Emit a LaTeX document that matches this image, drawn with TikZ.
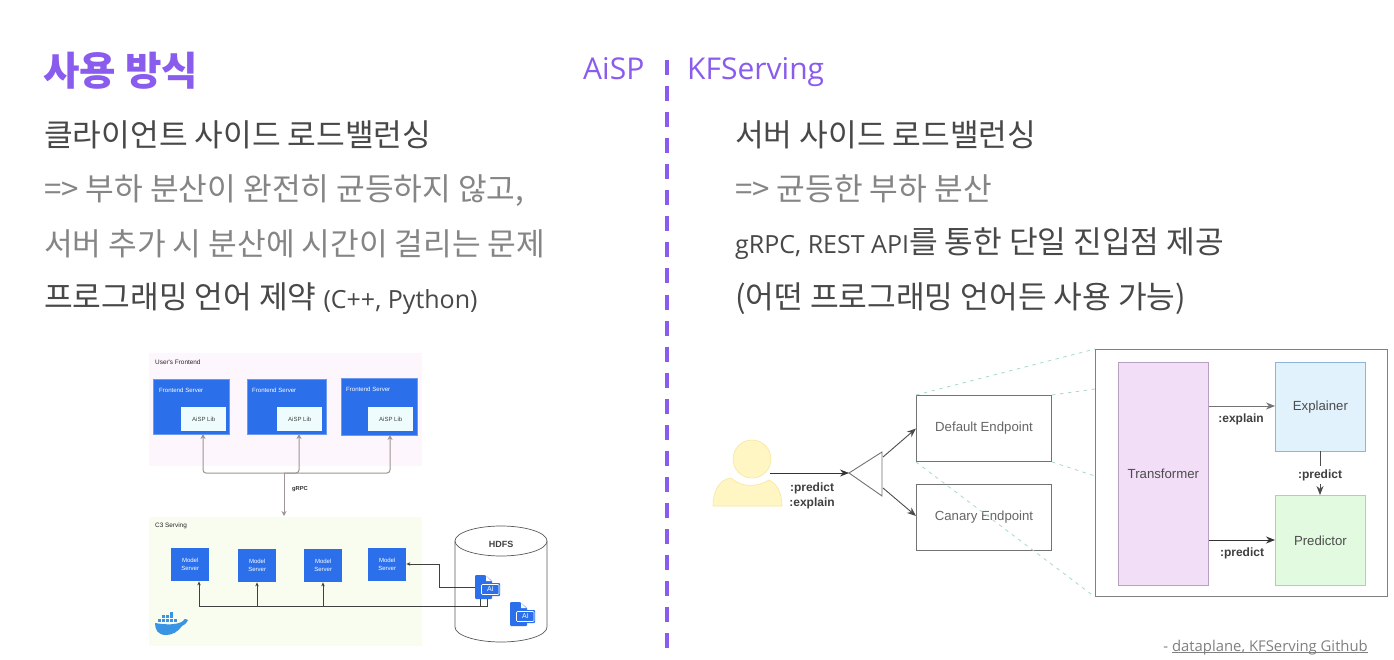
\documentclass[tikz,border=0pt]{standalone}
\usepackage{fontspec}
\setmainfont{Noto Sans CJK KR}
\newfontfamily\arialf{Liberation Sans}
\newfontfamily\latf{Open Sans}
\usetikzlibrary{arrows.meta,calc}
\definecolor{purp}{HTML}{8A5CEE}
\definecolor{dk}{HTML}{484848}
\definecolor{gy}{HTML}{858585}
\definecolor{blu}{HTML}{2B6FEA}
\definecolor{dock}{HTML}{3A94E4}
\definecolor{frontbg}{HTML}{FDF6FC}
\definecolor{cbg}{HTML}{F8FDF0}
\definecolor{libbg}{HTML}{EFFCFD}
\definecolor{trf}{HTML}{F2DFF7}
\definecolor{trd}{HTML}{B8A0C0}
\definecolor{exf}{HTML}{E2F2FC}
\definecolor{exd}{HTML}{8FB4D8}
\definecolor{prf}{HTML}{E2FAE0}
\definecolor{prd}{HTML}{A8D8A0}
\definecolor{zoomc}{HTML}{A8D8D0}
\definecolor{grpcc}{HTML}{A09494}
\definecolor{usf}{HTML}{FFF6C4}
\definecolor{usd}{HTML}{F8E6A0}
\tikzset{
  x=1pt,y=-1pt,
  maintxt/.style={anchor=base west,inner sep=0pt,text=dk,font=\fontsize{31.2}{31}\selectfont},
  graytxt/.style={maintxt,text=gy},
  headtxt/.style={anchor=base west,inner sep=0pt,text=purp,font=\latf\fontsize{30}{31}\selectfont},
  region/.style={draw=none,inner sep=0pt,anchor=north west},
  fsrv/.style={draw=blu!70!white,line width=.5pt,fill=blu,inner sep=0pt,anchor=north west,minimum width=76pt,minimum height=55pt},
  flib/.style={fill=libbg,inner sep=0pt,anchor=north west,minimum width=45pt,minimum height=24pt,text=black!75,font=\arialf\fontsize{6}{7}\selectfont},
  msrv/.style={fill=blu,inner sep=0pt,anchor=north west,minimum width=38pt,minimum height=33pt,text=white,align=center,font=\arialf\fontsize{6}{8}\selectfont},
  tiny/.style={inner sep=0pt,anchor=west,text=white,font=\arialf\fontsize{6.1}{7}\selectfont},
  tinyb/.style={inner sep=0pt,anchor=west,text=black!85,font=\arialf\fontsize{6.4}{7}\selectfont},
  grpcline/.style={draw=grpcc,line width=1pt,rounded corners=3pt},
  darkarr/.style={draw=black!75,line width=.7pt,-{Stealth[length=4pt,width=3.5pt]}},
  endp/.style={draw=black!55,line width=1pt,inner sep=0pt,minimum width=135pt,minimum height=66pt,anchor=north west,text=black!60,font=\arialf\fontsize{13.2}{14}\selectfont},
  comp/.style={line width=.8pt,inner sep=0pt,anchor=north west,minimum width=90pt,minimum height=90pt,text=black!70,font=\arialf\fontsize{13.2}{14}\selectfont},
  blk/.style={draw=black!80,line width=.9pt,-{Stealth[length=9pt,width=7pt]}},
  lab/.style={inner sep=1pt,text=black!75,font=\arialf\bfseries\fontsize{12}{13}\selectfont},
  zoomline/.style={draw=zoomc,line width=.8pt,dash pattern=on 3.5pt off 4.5pt},
  ailabel/.style={inner sep=0pt,text=white,font=\arialf\fontsize{7}{7}\selectfont}
}
\newcommand{\aiicon}[3]{% x y name
  \fill[blu,rounded corners=1pt] (#1,#2) -- (#1+10,#2) -- (#1+17,#2+6) -- (#1+17,#2+7) -- (#1+17,#2+24) -- (#1,#2+24) -- cycle;
  \fill[white] (#1+11,#2+1) -- (#1+16,#2+6) -- (#1+11,#2+6) -- cycle;
  \fill[blu,rounded corners=1pt] (#1+5,#2+8) rectangle (#1+25,#2+21);
  \draw[white,line width=.6pt,rounded corners=1pt] (#1+6.5,#2+9.5) rectangle (#1+24,#2+19.5);
  \node[ailabel] (#3) at (#1+15.5,#2+14.5) {AI};
}
\begin{document}
\begin{tikzpicture}
\useasboundingbox (0,0) rectangle (1394,660);
\fill[white] (0,0) rectangle (1394,660);

% header and text
\node[headtxt,font=\bfseries\fontsize{39.6}{40}\selectfont] (title) at (43,86) {사용 방식};
\node[headtxt] (aisp) at (583,80) {AiSP};
\node[headtxt] (kfs) at (687,80) {KFServing};
\coordinate (divt) at (667,60);
\coordinate (divb) at (667,649);
\draw[purp,line width=3.2pt,dash pattern=on 15pt off 11.06pt] (divt) -- (divb);

\node[maintxt] (l1) at (44,147) {클라이언트 사이드 로드밸런싱};
\node[graytxt] (l2) at (44,201) {=> 부하 분산이 완전히 균등하지 않고,};
\node[graytxt] (l3) at (44,255) {서버 추가 시 분산에 시간이 걸리는 문제};
\node[maintxt] (l4) at (44,308) {프로그래밍 언어 제약 {\latf\fontsize{25}{25}\selectfont (C++, Python)}};
\node[maintxt] (r1) at (735,147) {서버 사이드 로드밸런싱};
\node[graytxt] (r2) at (735,201) {=> 균등한 부하 분산};
\node[maintxt] (r3) at (735,254) {{\latf\fontsize{25}{25}\selectfont gRPC, REST API}를 통한 단일 진입점 제공};
\node[maintxt] (r4) at (735,308) {(어떤 프로그래밍 언어든 사용 가능)};

% left diagram
\node[region,fill=frontbg,minimum width=273pt,minimum height=113pt] (front) at (149,353) {};
\node[tinyb] (frontl) at (155,362) {User's Frontend};
\node[fsrv] (f1) at (153,379) {};
\node[fsrv,minimum width=79pt] (f2) at (247,379) {};
\node[fsrv,minimum height=57pt] (f3) at (341,378) {};
\node[tiny] at (159,390) {Frontend Server};
\node[tiny] at (252,390) {Frontend Server};
\node[tiny] at (346,389) {Frontend Server};
\node[flib] (a1) at (181,407) {AiSP Lib};
\node[flib] (a2) at (277,407) {AiSP Lib};
\node[flib] (a3) at (368,407) {AiSP Lib};

\node[region,fill=cbg,minimum width=273pt,minimum height=129pt] (c3) at (149,517) {};
\node[tinyb] (c3l) at (155,526) {C3 Serving};
\node[msrv] (m1) at (171,548) {Model\\Server};
\node[msrv] (m2) at (238,549) {Model\\Server};
\node[msrv] (m3) at (304,549) {Model\\Server};
\node[msrv] (m4) at (368,548) {Model\\Server};

\coordinate (bus) at (284,473);
\coordinate (stemtop) at (284,473);
\node[inner sep=0pt,text=black!80,font=\arialf\bfseries\fontsize{5.8}{6}\selectfont] (grpc) at (300,489) {gRPC};
\draw[grpcline,-{Stealth[length=5pt,width=5pt]}] (stemtop) -- (284,516);
\draw[grpcline,-{Stealth[length=5pt,width=5pt]}] (bus) -- (203,473) -- (203,434);
\draw[grpcline,-{Stealth[length=5pt,width=5pt]}] (bus) -- (299,473) -- (299,434);
\draw[grpcline,-{Stealth[length=5pt,width=5pt]}] (bus) -- (390,473) -- (390,435);

% HDFS cylinder
\draw[black!65,line width=.7pt,fill=white] (455,541) -- (455,627) arc[start angle=180,end angle=360,x radius=46pt,y radius=15pt] -- (547,541);
\draw[black!65,line width=.7pt,fill=white] (501,541) ellipse[x radius=46pt,y radius=15pt];
\node[inner sep=0pt,text=black!75,font=\arialf\bfseries\fontsize{9}{10}\selectfont] (hdfs) at (501,544) {HDFS};
\aiicon{475}{575}{ai1}
\aiicon{510}{602}{ai2}
\coordinate (ibl) at (487,599);
\coordinate (ibk) at (480,599);
\draw[darkarr] (475,587) -- (439,587) -- (439,564) -- (m4.east |- 0,564);
\draw[black!75,line width=.7pt] (ibl) -- (487,606) -- (199,606);
\draw[black!75,line width=.7pt] (ibk) -- (480,606);
\draw[darkarr] (199,606) -- (199,0 |- m1.south);
\draw[darkarr] (257,606) -- (257,0 |- m2.south);
\draw[darkarr] (323,606) -- (323,0 |- m3.south);

% whale
\fill[dock] (155,623) .. controls (166,625) and (178,625) .. (183,621) .. controls (184,618) and (187,619) .. (188,620) .. controls (186,624) and (184,625) .. (182,626) .. controls (178,632) and (172,635) .. (166,635) .. controls (158,635) and (155,630) .. (155,623) -- cycle;
\foreach \bx/\by in {158/619,162/619,166/619,170/619,174/619,162/615,166/615,170/615,170/612}{
  \fill[dock] (\bx,\by) rectangle +(3,3);
}

% right diagram: person
\fill[usf,draw=usd,line width=.6pt] (713,506) .. controls (713,490) and (720,479) .. (731,478) .. controls (742,488) and (758,487) .. (769,480) .. controls (776,483) and (782,492) .. (782,506) -- cycle;
\node[circle,fill=usf,draw=usd,line width=.6pt,minimum size=38pt,inner sep=0pt] (user) at (752,459) {};
\coordinate (userr) at (770,473);

\coordinate (tria) at (849,473);
\coordinate (trit) at (882,452);
\coordinate (trib) at (882,496);
\draw[black!55,line width=.9pt,fill=white] (tria) -- (trit) -- (trib) -- cycle;
\node[lab,anchor=center] (lp) at (812,488) {:predict};
\node[lab,anchor=center] (le) at (812,503) {:explain};

\node[endp] (def) at (916,395) {Default Endpoint};
\node[endp] (can) at (916,484) {Canary Endpoint};
\draw[blk] (userr) -- (tria);
\draw[blk,black!70] (883,457) -- (def.west);
\draw[blk,black!70] (883,488) -- (916,516);

\node[draw=black!50,line width=1pt,fill=white,inner sep=0pt,anchor=north west,minimum width=292pt,minimum height=247pt] (big) at (1095,349) {};
\draw[zoomline] (def.north west) -- (big.north west);
\draw[zoomline] (def.north east) -- (1095,389);
\draw[zoomline] (def.south east) -- (1095,476);
\draw[zoomline] (def.south west) -- (big.south west);

\node[comp,draw=trd,fill=trf,minimum height=223pt] (tr) at (1118,362) {Transformer};
\node[comp,draw=exd,fill=exf,minimum height=89pt] (ex) at (1275,362) {Explainer};
\node[comp,draw=prd,fill=prf] (pr) at (1275,495) {Predictor};
\draw[draw=black!55,line width=.9pt,-{Stealth[length=9pt,width=7pt]}] (tr.east |- 0,406) -- (ex.west |- 0,406);
\draw[blk] (tr.east |- 0,540) -- (pr.west |- 0,540);
\draw[blk,black!70] (1320,451) -- (1320,495);
\node[lab,fill=white,anchor=center,inner ysep=3pt] (pv) at (1320,475) {:predict};
\node[lab,anchor=center] (ee) at (1241,419) {:explain};
\node[lab,anchor=center] (pp) at (1242,553) {:predict};

\node[inner sep=0pt,anchor=base east,text=black!50,font=\latf\fontsize{14.85}{16}\selectfont] (cite) at (1368,651) {- \underline{\smash{dataplane, KFServing Github}}};
\end{tikzpicture}
\end{document}
